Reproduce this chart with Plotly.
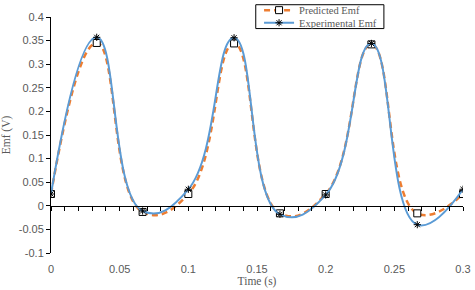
import plotly.graph_objects as go

time_s = [0.0, 0.0333, 0.0667, 0.1, 0.1333, 0.1667, 0.2, 0.2333, 0.2667, 0.3]
predicted_emf = [0.025, 0.345, -0.013, 0.025, 0.344, -0.016, 0.025, 0.342, -0.016, 0.025]
experimental_emf = [0.025, 0.357, -0.011, 0.035, 0.356, -0.018, 0.023, 0.344, -0.040, 0.035]

x_tick_vals = [0, 0.05, 0.1, 0.15, 0.2, 0.25, 0.3]
x_tick_text = ["0", "0.05", "0.1", "0.15", "0.2", "0.25", "0.3"]
y_tick_vals = [-0.1, -0.05, 0, 0.05, 0.1, 0.15, 0.2, 0.25, 0.3, 0.35, 0.4]
y_tick_text = ["-0.1", "-0.05", "0", "0.05", "0.1", "0.15", "0.2", "0.25", "0.3", "0.35", "0.4"]

ORANGE = "#ED7D31"
BLUE = "#5B9BD5"
GRAY = "#595959"
SERIF = "Liberation Serif, Times New Roman, serif"
SANS = "Liberation Sans, Arial, sans-serif"

fig = go.Figure()
fig.add_trace(go.Scatter(
    x=time_s, y=predicted_emf, name="Predicted Emf",
    mode="lines+markers", line=dict(color=ORANGE, width=2.5, dash="6px,4px", shape="spline", smoothing=1.3),
    marker=dict(symbol="square", size=7, color="white", line=dict(color="black", width=1)),
    legend="legend",
))
fig.add_trace(go.Scatter(
    x=time_s, y=experimental_emf, name="Experimental Emf",
    mode="lines+markers", line=dict(color=BLUE, width=2, shape="spline", smoothing=1.3),
    marker=dict(symbol="asterisk-open", size=6, color="black", line=dict(color="black", width=1)),
    xaxis="x2", legend="legend2",
))

fig.update_layout(
    width=475, height=290,
    showlegend=True,
    margin=dict(l=51, r=12, t=17, b=37, autoexpand=False),
    paper_bgcolor="white", plot_bgcolor="white",
    xaxis=dict(
        range=[0, 0.3], tickvals=x_tick_vals, ticktext=x_tick_text, automargin=False,
        showline=False, showgrid=False, zeroline=False, ticks="", ticklabelstandoff=8,
        tickfont=dict(family=SANS, size=11, color=GRAY),
        title=dict(text="Time (s)", font=dict(family=SERIF, size=11.5, color=GRAY), standoff=0),
    ),
    xaxis2=dict(
        range=[0, 0.3], overlaying="x", anchor="free", position=0.2, side="bottom",
        showline=True, linecolor="black", linewidth=1, showgrid=False, zeroline=False,
        ticks="outside", ticklen=4, tickcolor="black", tickwidth=1, dtick=0.01, tick0=0,
        showticklabels=False, automargin=False,
    ),
    yaxis=dict(
        range=[-0.1, 0.4], tickvals=y_tick_vals, ticktext=y_tick_text, automargin=False,
        showline=True, linecolor="black", linewidth=1, showgrid=False, zeroline=False,
        ticks="outside", ticklen=4, tickcolor="black",
        tickfont=dict(family=SANS, size=11, color=GRAY),
        title=dict(text="Emf (V)", font=dict(family=SERIF, size=11.5, color=GRAY), standoff=5),
    ),
    legend=dict(x=0.505, xanchor="left", y=1.0905, yanchor="top", bgcolor="rgba(0,0,0,0)",
                font=dict(family=SERIF, size=10.5, color=GRAY), borderwidth=0),
    legend2=dict(x=0.505, xanchor="left", y=1.037, yanchor="top", bgcolor="rgba(0,0,0,0)",
                 font=dict(family=SERIF, size=10.5, color=GRAY), borderwidth=0),
    shapes=[dict(type="rect", xref="paper", yref="paper", x0=0.497, x1=0.808, y0=0.951, y1=1.052,
                 line=dict(color="black", width=1), fillcolor="rgba(0,0,0,0)", layer="above")],
)

fig.write_html("out.html", config={"displayModeBar": False},
               post_script="document.body.style.margin='0';")
